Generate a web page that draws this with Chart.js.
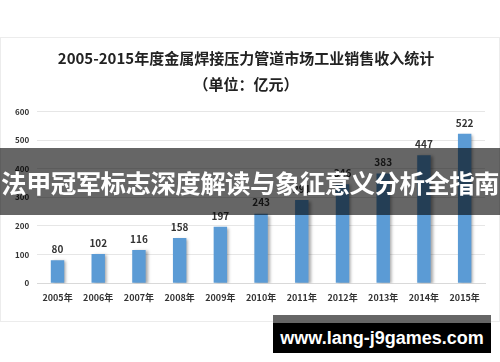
<!DOCTYPE html>
<html>
<head>
<meta charset="utf-8">
<script src="https://cdn.jsdelivr.net/npm/chart.js@4"></script>
<style>
  body { margin: 0; background: #fff; }
  #wrap { position: relative; width: 500px; height: 362px; overflow: hidden; }
  #frame { position: absolute; left: 0; top: 37px; width: 498px; height: 283px; border: 1px solid #ececec; }
  #banner { position: absolute; left: 0; top: 148px; width: 500px; height: 67px; background: rgba(0,0,0,0.6);
    color: #fff; font: bold 25.5px "Noto Sans CJK SC", sans-serif; line-height: 67px; text-align: center; white-space: nowrap; letter-spacing: -0.6px; }
  #mark { position: absolute; left: 273px; top: 315px; width: 218px; height: 38px; background: #000; border-top: 8px solid #666; box-sizing: border-box;
    color: #fff; font: bold 18px "Liberation Sans", sans-serif; line-height: 30px; text-align: center; white-space: nowrap; }
</style>
</head>
<body>
<div id="wrap">
  <div id="frame"></div>
  <canvas id="chart" width="500" height="362" style="position:absolute;left:0;top:0"></canvas>
  <div id="banner">法甲冠军标志深度解读与象征意义分析全指南</div>
  <div id="mark">www.lang-j9games.com</div>
</div>
<script>
const years = ['2005年', '2006年', '2007年', '2008年', '2009年', '2010年', '2011年', '2012年', '2013年', '2014年', '2015年'];
const revenue = [80, 102, 116, 158, 197, 243, 291, 346, 383, 447, 522];
const yTicks = [0, 100, 200, 300, 400, 500, 600];

const cjk = '"Noto Sans CJK SC", sans-serif';

// value labels above bars + soft shadow
const barLabels = {
    id: 'barLabels',
    beforeDatasetDraw(chart) {
        const c = chart.ctx;
        c.save();
        c.shadowColor = 'rgba(0,0,0,0.35)';
        c.shadowBlur = 3;
        c.shadowOffsetX = 2;
        c.shadowOffsetY = 1;
    },
    afterDatasetDraw(chart) {
        chart.ctx.restore();
    },
    afterDatasetsDraw(chart) {
        const c = chart.ctx;
        const meta = chart.getDatasetMeta(0);
        c.save();
        c.fillStyle = '#333';
        c.font = 'bold 10px ' + cjk;
        c.textAlign = 'center';
        c.textBaseline = 'bottom';
        meta.data.forEach((bar, i) => {
            c.fillText(revenue[i], bar.x, bar.y - 6);
        });
        c.restore();
    }
};

const ctx = document.getElementById('chart').getContext('2d');
new Chart(ctx, {
    type: 'bar',
    data: {
        labels: years,
        datasets: [{
            data: revenue,
            backgroundColor: '#5b9bd5',
            categoryPercentage: 1,
            barPercentage: 0.33
        }]
    },
    options: {
        responsive: false,
        animation: false,
        layout: { padding: { left: 7, right: 15, top: 45, bottom: 58 } },
        plugins: {
            legend: { display: false },
            tooltip: { enabled: false },
            title: {
                display: true,
                text: ['2005-2015年度金属焊接压力管道市场工业销售收入统计', '（单位：亿元）'],
                color: '#222',
                font: { family: cjk, size: 15, weight: 'bold', lineHeight: 1.75 },
                padding: { top: 0, bottom: 14 }
            }
        },
        scales: {
            x: {
                grid: { display: false },
                border: { display: true, color: '#d9d9d9' },
                ticks: { color: '#333', font: { family: cjk, size: 9, weight: 'bold' }, padding: 1, maxRotation: 0 }
            },
            y: {
                min: 0, max: 600,
                afterBuildTicks: axis => { axis.ticks = yTicks.map(v => ({ value: v })); },
                grid: { color: '#e6e6e6', drawTicks: false },
                border: { display: false },
                ticks: { color: '#333', font: { family: cjk, size: 8, weight: 'bold' }, padding: 8 }
            }
        }
    },
    plugins: [barLabels]
});
</script>
</body>
</html>
